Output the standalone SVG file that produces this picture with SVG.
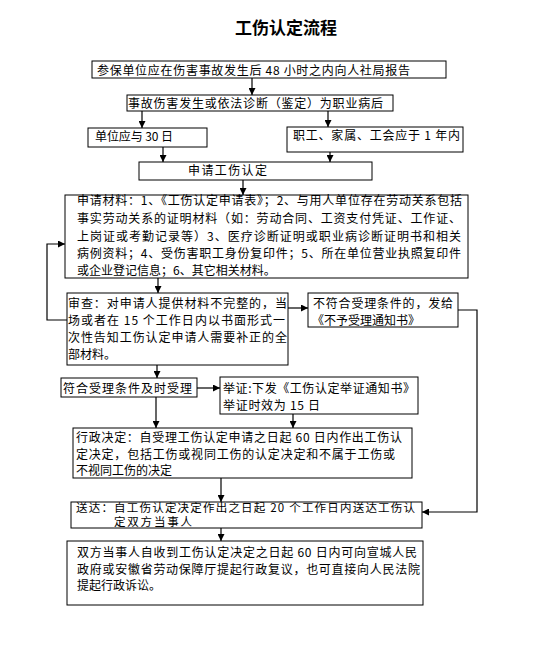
<svg xmlns="http://www.w3.org/2000/svg" width="543" height="649" viewBox="0 0 543 649">
<style>
rect.box{fill:#fff;stroke:#000;stroke-width:1}
text{font-family:"Noto Sans CJK SC","Noto Sans",sans-serif;font-size:12px;fill:#000}
text.title{font-size:17px;font-weight:bold}
text.tight{font-size:11.5px}
.conn path{fill:none;stroke:#000;stroke-width:1.2}
</style>
<defs>
<marker id="ah" viewBox="0 0 8 8" refX="8" refY="4" markerWidth="7" markerHeight="7" orient="auto" markerUnits="userSpaceOnUse">
<path d="M0,0 L8,4 L0,8 z" fill="#000"/>
</marker>
</defs>
<rect width="543" height="649" fill="#fff"/>
<text class="title" x="235" y="34" textLength="102">工伤认定流程</text>

<g class="conn">
<path d="M252,78 V95" marker-end="url(#ah)"/>
<path d="M142,111 V128" marker-end="url(#ah)"/>
<path d="M328,111 V127" marker-end="url(#ah)"/>
<path d="M163,147 V162" marker-end="url(#ah)"/>
<path d="M330,152 V162" marker-end="url(#ah)"/>
<path d="M243,180 V195" marker-end="url(#ah)"/>
<path d="M67,320 H47 V244 H65" marker-end="url(#ah)"/>
<path d="M158,278 V293" marker-end="url(#ah)"/>
<path d="M288,308 H308" marker-end="url(#ah)"/>
<path d="M458,310 H477 V512 H422" marker-end="url(#ah)"/>
<path d="M157,365 V378" marker-end="url(#ah)"/>
<path d="M197,388 H220" marker-end="url(#ah)"/>
<path d="M156,397 V428" marker-end="url(#ah)"/>
<path d="M293,414 V428" marker-end="url(#ah)"/>
<path d="M221,478 V502" marker-end="url(#ah)"/>
<path d="M221,528 V541" marker-end="url(#ah)"/>
</g>

<g id="n-report">
<rect class="box" x="92" y="61" width="354" height="17"/>
<text x="97" y="74.5" textLength="313">参保单位应在伤害事故发生后 48 小时之内向人社局报告</text>
</g>
<g id="n-occur">
<rect class="box" x="127" y="95" width="266" height="16"/>
<text x="128" y="108" textLength="255">事故伤害发生或依法诊断（鉴定）为职业病后</text>
</g>
<g id="n-unit">
<rect class="box" x="88" y="128" width="119" height="19"/>
<text x="95" y="140.5" textLength="78">单位应与 30 日</text>
</g>
<g id="n-worker">
<rect class="box" x="287" y="127" width="176" height="25"/>
<text x="293" y="140" textLength="167">职工、家属、工会应于 1 年内</text>
</g>
<g id="n-apply">
<rect class="box" x="139" y="162" width="233" height="18"/>
<text x="188" y="175" textLength="79">申请工伤认定</text>
</g>
<g id="n-materials">
<rect class="box" x="65" y="195" width="403" height="83"/>
<text x="77" y="205" textLength="385">申请材料：1、《工伤认定申请表》；2、与用人单位存在劳动关系包括</text>
<text x="77" y="223" textLength="384">事实劳动关系的证明材料（如：劳动合同、工资支付凭证、工作证、</text>
<text x="77" y="240.5" textLength="384">上岗证或考勤记录等）3、医疗诊断证明或职业病诊断证明书和相关</text>
<text x="77" y="258" textLength="384">病例资料；4、受伤害职工身份复印件；5、所在单位营业执照复印件</text>
<text x="77" y="275">或企业登记信息；6、其它相关材料。</text>
</g>
<g id="n-review">
<rect class="box" x="67" y="293" width="221" height="72"/>
<text x="68" y="308" textLength="219">审查：对申请人提供材料不完整的，当</text>
<text x="68" y="325" textLength="217">场或者在 15 个工作日内以书面形式一</text>
<text x="68" y="342" textLength="219">次性告知工伤认定申请人需要补正的全</text>
<text x="68" y="359">部材料。</text>
</g>
<g id="n-reject">
<rect class="box" x="308" y="293" width="150" height="34"/>
<text x="313" y="308" textLength="140">不符合受理条件的，发给</text>
<text x="312" y="325" textLength="108">《不予受理通知书》</text>
</g>
<g id="n-accept">
<rect class="box" x="61" y="378" width="136" height="19"/>
<text x="63" y="392.5" textLength="129">符合受理条件及时受理</text>
</g>
<g id="n-evidence">
<rect class="box" x="220" y="377" width="198" height="37"/>
<text x="223" y="392.5" textLength="192">举证:下发《工伤认定举证通知书》</text>
<text x="223" y="409.5" textLength="97">举证时效为 15 日</text>
</g>
<g id="n-decision">
<rect class="box" x="73" y="428" width="339" height="50"/>
<text x="76" y="442" textLength="326">行政决定：自受理工伤认定申请之日起 60 日内作出工伤认</text>
<text x="76" y="458.5" textLength="319">定决定，包括工伤或视同工伤的认定决定和不属于工伤或</text>
<text x="76" y="475">不视同工伤的决定</text>
</g>
<g id="n-deliver">
<rect class="box" x="71" y="502" width="351" height="26"/>
<text class="tight" x="76" y="511.5" textLength="339">送达：自工伤认定决定作出之日起 20 个工作日内送达工伤认</text>
<text class="tight" x="114" y="526" textLength="78">定双方当事人</text>
</g>
<g id="n-appeal">
<rect class="box" x="67" y="541" width="356" height="64"/>
<text x="77" y="557" textLength="340">双方当事人自收到工伤认定决定之日起 60 日内可向宣城人民</text>
<text x="77" y="573.5" textLength="343">政府或安徽省劳动保障厅提起行政复议，也可直接向人民法院</text>
<text x="77" y="590">提起行政诉讼。</text>
</g>
</svg>
